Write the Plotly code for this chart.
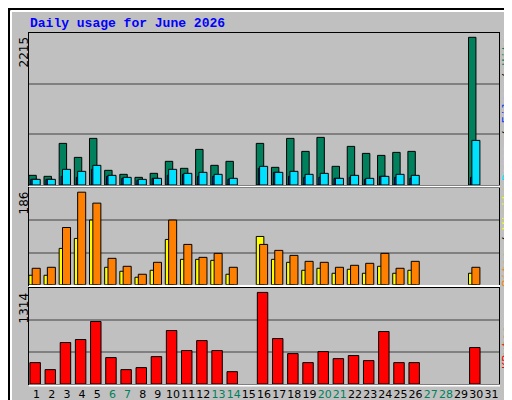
"""
Daily usage chart (webalizer style)
"""

import plotly.graph_objects as go
from plotly.subplots import make_subplots

days = [1, 2, 3, 4, 5, 6, 7, 8, 9, 10, 11, 12, 13, 14, 16, 17, 18, 19, 20, 21, 22, 23, 24, 25, 26, 30]
hits = [145, 130, 624, 414, 699, 220, 160, 115, 175, 355, 250, 534, 295, 355,
        624, 265, 699, 504, 714, 280, 579, 474, 444, 489, 504, 2215]
files = [85, 85, 130, 115, 235, 130, 100, 70, 100, 145, 160, 130, 130, 85,
         250, 190, 130, 115, 115, 100, 115, 85, 130, 115, 100, 115]
pages = [85, 85, 235, 205, 295, 145, 115, 85, 100, 235, 175, 190, 160, 100,
         280, 190, 205, 160, 175, 100, 145, 100, 130, 160, 145, 669]
sites = [19, 19, 73, 93, 130, 35, 27, 15, 29, 91, 51, 51, 49, 21,
         97, 51, 45, 29, 33, 23, 31, 23, 37, 23, 29, 23]
visits = [33, 35, 115, 186, 164, 53, 37, 21, 45, 130, 81, 55, 63, 35,
          81, 69, 59, 47, 45, 35, 39, 43, 63, 33, 47, 35]
kbytes = [307, 206, 595, 638, 897, 379, 206, 235, 393, 767, 480, 623, 480, 177,
          1314, 652, 436, 307, 465, 364, 408, 336, 753, 307, 307, 523]
all_days = list(range(1, 32))
weekend = [6, 7, 13, 14, 20, 21, 27, 28]

W, H = 512, 400
L, R, T, B = 21, 491, 25, 376
GREY = "#C0C0C0"
MONO = "Liberation Mono, DejaVu Sans Mono, monospace"


def px(x):
    return (x - L) / (R - L)


def py(y):
    return (B - y) / (B - T)


fig = make_subplots(rows=3, cols=1, shared_xaxes=True, vertical_spacing=0.0)

line = dict(color="black", width=1)

# top panel
fig.add_trace(go.Bar(x=days, y=hits, width=0.49, offset=-0.51,
                     marker=dict(color="#00805C", line=line)), row=1, col=1)
fig.add_trace(go.Bar(x=days, y=files, width=0.45, offset=-0.38,
                     marker=dict(color="#0040FF", line=line)), row=1, col=1)
fig.add_trace(go.Bar(x=days, y=pages, width=0.53, offset=-0.29,
                     marker=dict(color="#00E0FF", line=line)), row=1, col=1)

# middle panel
fig.add_trace(go.Bar(x=days, y=sites, width=0.5, offset=-0.51,
                     marker=dict(color="#FFFF00", line=line)), row=2, col=1)
fig.add_trace(go.Bar(x=days, y=visits, width=0.53, offset=-0.29,
                     marker=dict(color="#FF8000", line=line)), row=2, col=1)

# bottom panel
fig.add_trace(go.Bar(x=days, y=kbytes, width=0.69, offset=-0.44,
                     marker=dict(color="#FF0000", line=line)), row=3, col=1)

tops = [max(hits) * 152 / 147.7, max(visits) * 96.3 / 92.4, max(kbytes) * 95.4 / 91.3]
domains = [[py(177), 1], [py(276.7), py(180.3)], [0, py(280.3)]]
for i in range(3):
    top = tops[i]
    fig.update_yaxes(range=[0, top], domain=domains[i], tickvals=[top / 3, 2 * top / 3],
                     showticklabels=False, showgrid=True, gridcolor="#808080", gridwidth=1.5,
                     zeroline=False, showline=True, linecolor="black", mirror=True,
                     automargin=False, row=i + 1, col=1)

ticktext = [
    f'<span style="color:#00805C">{d}</span>' if d in weekend else str(d)
    for d in all_days
]
fig.update_xaxes(range=[0.5, 31.5], showgrid=False, zeroline=False, showline=True,
                 linecolor="black", mirror=True, ticks="", automargin=False)
fig.update_xaxes(tickvals=all_days, ticktext=ticktext, tickangle=0,
                 tickfont=dict(size=11, color="black", family="DejaVu Sans"), row=3, col=1)

annotations = [
    dict(text="Daily usage for June 2026", x=px(20), y=py(15), xanchor="left", yanchor="middle",
         font=dict(family=MONO, size=13, color="#0000FF", weight="bold")),
]
for label, yt in [(str(max(hits)), 27), (str(max(visits)), 182), (str(max(kbytes)), 283)]:
    annotations.append(dict(text=label, x=px(15), y=py(yt), xanchor="center", yanchor="top",
                            textangle=-90,
                            font=dict(family="DejaVu Sans", size=12, color="black")))
right_labels = [
    ('<span style="color:#00E0FF">Pages</span> / <span style="color:#0040FF">Files</span>'
     ' / <span style="color:#00805C">Hits</span>', 101),
    ('<span style="color:#FF8000">Sites</span> / <span style="color:#FFFF00">Visits</span>', 229),
    ('<span style="color:#FF0000">KBytes</span>', 340),
]
for text, yc in right_labels:
    annotations.append(dict(text=text, x=px(500), y=py(yc), xanchor="center", yanchor="middle",
                            textangle=-90,
                            font=dict(family=MONO, size=12, color="black")))
for a in annotations:
    a.update(xref="paper", yref="paper", showarrow=False)

shapes = [
    # outer 3D frame
    dict(type="rect", xref="paper", yref="paper", x0=px(1), x1=px(511), y0=py(399), y1=py(1),
         line=dict(color="black", width=2), layer="below"),
    dict(type="line", xref="paper", yref="paper", x0=px(3), x1=px(3), y0=py(396), y1=py(3),
         line=dict(color="white", width=2)),
    dict(type="line", xref="paper", yref="paper", x0=px(3), x1=px(507), y0=py(3), y1=py(3),
         line=dict(color="white", width=2)),
    dict(type="line", xref="paper", yref="paper", x0=px(507), x1=px(507), y0=py(396), y1=py(5),
         line=dict(color="#808080", width=5)),
    dict(type="line", xref="paper", yref="paper", x0=px(3), x1=px(509), y0=py(396), y1=py(396),
         line=dict(color="#808080", width=5)),
]
# white highlight under each panel
for yb in [178.5, 278, 377.5]:
    shapes.append(dict(type="line", xref="paper", yref="paper", x0=px(L), x1=px(R + 1),
                       y0=py(yb), y1=py(yb), line=dict(color="white", width=2)))

fig.update_layout(
    width=W,
    height=H,
    barmode="overlay",
    showlegend=False,
    paper_bgcolor=GREY,
    plot_bgcolor=GREY,
    margin=dict(l=L, r=W - R, t=T, b=H - B, autoexpand=False),
    annotations=annotations,
    shapes=shapes,
)

fig.write_html("out.html")
